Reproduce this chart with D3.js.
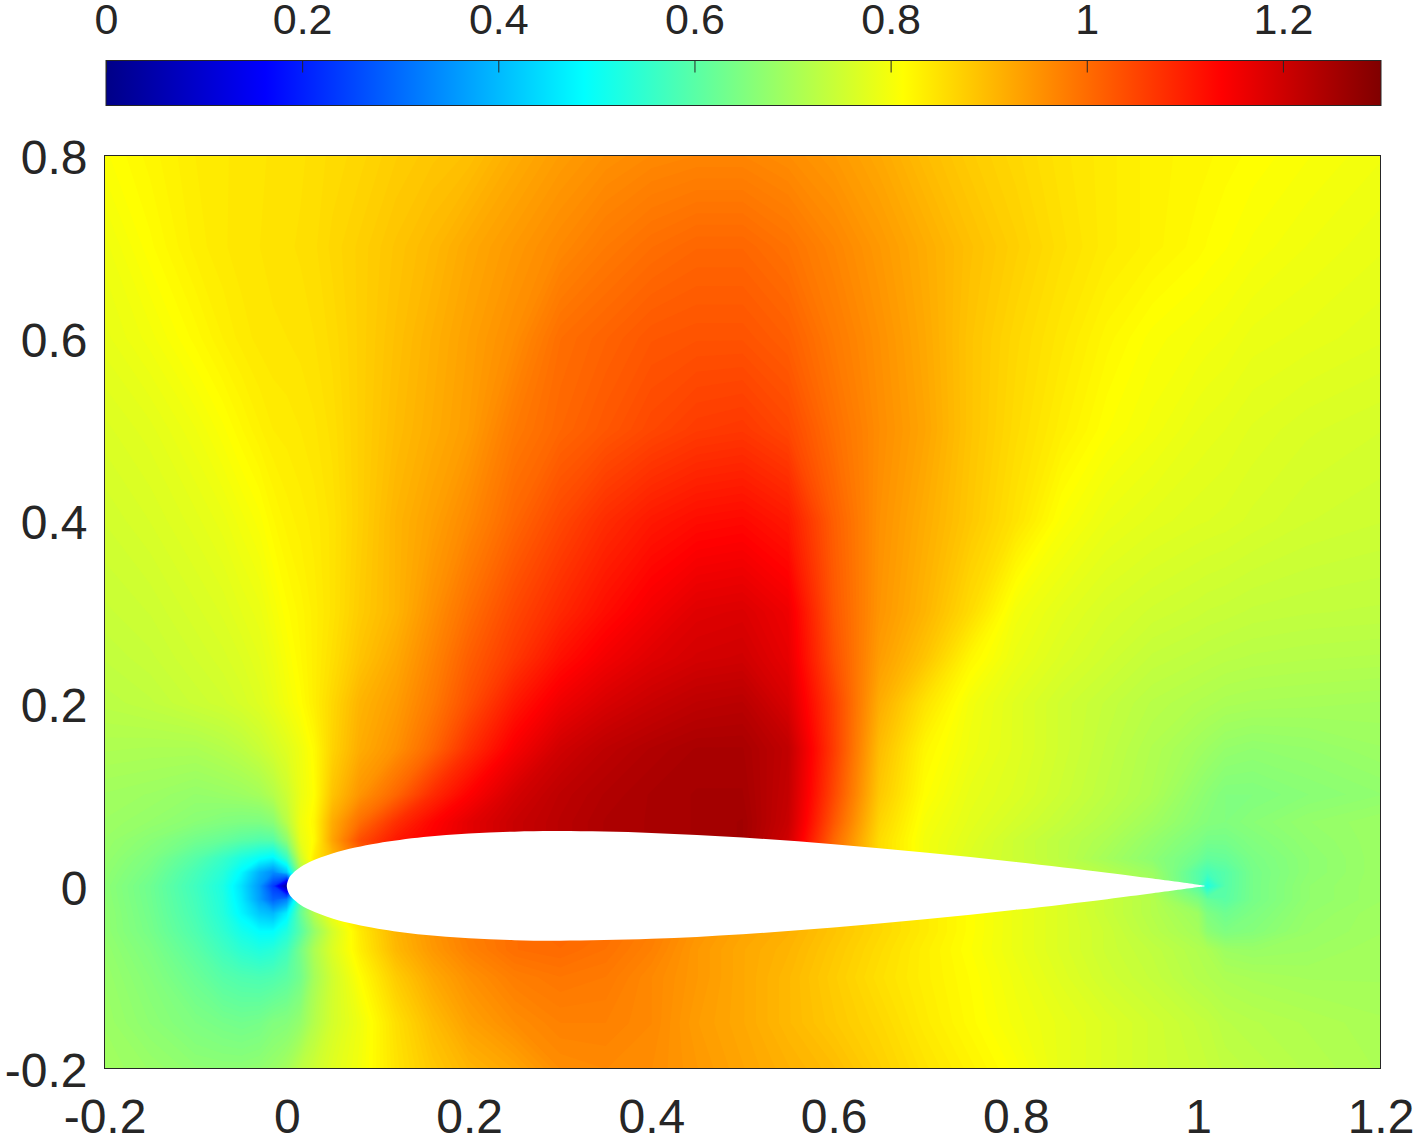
<!DOCTYPE html>
<html>
<head>
<meta charset="utf-8">
<script src="https://cdn.jsdelivr.net/npm/d3@7"></script>
<style>
	body { margin: 0; background: #fff; }
	svg { display: block; }
	text { font-family: "Liberation Sans", Arial, sans-serif; fill: #262626; }
</style>
</head>
<body>
<script>
// grid positions of the field (finer near nose and tail)
const gridXs = [-0.2,-0.15,-0.1,-0.07,-0.05,-0.03,-0.015,0,0.015,0.03,0.05,0.08,0.12,0.16,0.2,0.25,0.3,0.35,0.4,0.45,0.5,0.55,0.6,0.65,0.7,0.75,0.8,0.85,0.9,0.95,1,1.01,1.03,1.06,1.12,1.2]
const gridYs = [0.8,0.7,0.6,0.5,0.4,0.3,0.25,0.2,0.15,0.1,0.07,0.05,0.03,0.015,0,-0.015,-0.03,-0.05,-0.07,-0.1,-0.15,-0.2]

// field values, one row per gridYs entry
const rowP80 = [.811,.825,.838,.842,.845,.847,.849,.85,.852,.855,.86,.866,.878,.887,.895,.92,.94,.955,.965,.97,.97,.96,.945,.925,.9,.88,.865,.85,.84,.83,.825,.824,.82,.816,.808,.798]
const rowP70 = [.795,.816,.835,.842,.846,.848,.85,.852,.854,.857,.865,.875,.89,.905,.925,.945,.965,.985,1,1.01,1.01,.995,.97,.945,.92,.895,.875,.855,.84,.83,.82,.817,.813,.806,.797,.788]
const rowP60 = [.785,.8,.82,.833,.84,.845,.847,.848,.85,.853,.86,.875,.895,.915,.935,.96,1,1.015,1.03,1.035,1.035,1.02,.985,.955,.925,.89,.865,.845,.825,.81,.802,.8,.797,.79,.785,.778]
const rowP50 = [.77,.78,.797,.811,.822,.832,.838,.84,.843,.847,.855,.875,.9,.92,.94,.985,1.01,1.03,1.05,1.065,1.07,1.05,1,.96,.93,.89,.86,.835,.813,.8,.787,.785,.782,.776,.768,.762]
const rowP40 = [.757,.767,.78,.79,.8,.81,.822,.83,.835,.84,.85,.875,.91,.935,.965,1.01,1.05,1.085,1.11,1.125,1.13,1.11,1.02,.955,.92,.885,.85,.81,.79,.78,.773,.772,.77,.765,.757,.752]
const rowP30 = [.745,.752,.765,.773,.782,.79,.803,.816,.825,.835,.85,.88,.91,.955,1,1.05,1.09,1.125,1.155,1.18,1.185,1.16,1.03,.95,.91,.86,.8,.78,.765,.755,.748,.746,.744,.74,.737,.735]
const rowP25 = [.737,.745,.757,.765,.772,.782,.793,.808,.822,.835,.855,.89,.925,.97,1.02,1.07,1.12,1.155,1.18,1.195,1.2,1.17,1.04,.94,.89,.825,.79,.77,.755,.74,.733,.731,.728,.725,.722,.72]
const rowP20 = [.728,.735,.748,.755,.763,.773,.785,.8,.815,.835,.865,.91,.94,.985,1.04,1.11,1.16,1.19,1.21,1.225,1.23,1.19,1.06,.92,.85,.8,.775,.755,.74,.725,.715,.713,.708,.705,.703,.7]
const rowP15 = [.712,.71,.71,.72,.73,.745,.76,.775,.795,.82,.87,.92,.955,1.01,1.08,1.15,1.2,1.225,1.24,1.25,1.25,1.22,1.065,.9,.825,.795,.775,.755,.735,.715,.695,.69,.68,.675,.68,.69]
const rowP10 = [.695,.69,.68,.685,.69,.7,.72,.75,.79,.815,.89,.95,1.01,1.085,1.14,1.195,1.225,1.24,1.25,1.255,1.255,1.215,1.05,.885,.815,.785,.77,.75,.73,.71,.675,.668,.655,.655,.665,.675]
const rowP07 = [.69,.68,.665,.655,.65,.65,.665,.725,.795,.825,.92,1,1.08,1.135,1.175,1.21,1.23,1.245,1.25,1.255,1.26,1.21,1.03,.87,.805,.78,.76,.74,.72,.695,.665,.66,.655,.665,.68,.69]
const rowP05 = [.685,.665,.635,.62,.605,.595,.6,.67,.785,.82,.93,1.04,1.11,1.145,1.175,1.21,1.23,1.245,1.25,1.255,1.26,1.2,1.01,.86,.8,.775,.75,.73,.71,.68,.65,.64,.64,.655,.675,.69]
const rowP03 = [.68,.65,.6,.56,.525,.495,.475,.56,.75,.84,.9,1,1.08,1.13,1.16,1.2,1.23,1.25,1.26,1.27,1.26,1.19,1,.86,.8,.77,.75,.73,.7,.67,.63,.615,.62,.645,.67,.69]
const rowP015 = [.675,.64,.58,.54,.485,.39,.345,.42,.7,.8,.86,.95,1.05,1.1,1.13,1.17,1.2,1.22,1.22,1.2,1.15,1.1,.98,.86,.81,.78,.76,.74,.72,.69,.6,.58,.6,.64,.67,.69]
const rowZero = [.67,.63,.57,.525,.455,.36,.24,.02,.4,.7,.8,.88,.93,.97,1,1.05,1.08,1.1,1.1,1.09,1.07,1.05,.95,.86,.82,.79,.77,.75,.73,.7,.6,.53,.6,.64,.675,.69]
const rowM015 = [.672,.632,.575,.53,.465,.37,.29,.33,.6,.72,.8,.87,.93,.97,.99,1,1.01,1,.98,.95,.93,.915,.89,.865,.84,.815,.79,.77,.745,.72,.65,.62,.605,.64,.675,.69]
const rowM03 = [.675,.635,.58,.535,.48,.42,.4,.47,.62,.72,.8,.87,.93,.97,.99,1,1.01,1,.98,.95,.93,.915,.89,.865,.84,.815,.79,.77,.745,.72,.69,.65,.63,.65,.68,.695]
const rowM05 = [.675,.64,.59,.55,.515,.49,.49,.53,.6,.68,.76,.84,.91,.95,.98,1,1.01,1,.98,.95,.93,.915,.89,.865,.84,.815,.79,.77,.75,.725,.7,.67,.65,.66,.685,.695]
const rowM07 = [.68,.65,.605,.57,.545,.53,.54,.57,.64,.71,.77,.835,.905,.945,.975,1,1.005,.995,.975,.945,.925,.91,.885,.86,.835,.813,.79,.77,.75,.735,.715,.71,.69,.685,.69,.7]
const rowM10 = [.685,.66,.625,.6,.59,.585,.59,.605,.635,.7,.755,.815,.88,.925,.955,.98,.99,.985,.965,.945,.925,.905,.88,.855,.835,.817,.795,.775,.755,.74,.72,.717,.71,.705,.7,.7]
const rowM15 = [.69,.67,.65,.64,.635,.64,.655,.66,.68,.72,.76,.795,.855,.9,.935,.96,.975,.975,.965,.94,.925,.905,.885,.865,.84,.82,.8,.785,.77,.755,.74,.737,.727,.722,.715,.707]
const rowM20 = [.695,.685,.672,.67,.67,.675,.685,.7,.73,.75,.775,.8,.85,.885,.91,.93,.96,.965,.96,.945,.93,.915,.9,.875,.85,.83,.81,.785,.77,.755,.745,.742,.735,.73,.72,.71]

const fieldRows = [rowP80,rowP70,rowP60,rowP50,rowP40,rowP30,rowP25,rowP20,rowP15,rowP10,rowP07,rowP05,rowP03,rowP015,rowZero,rowM015,rowM03,rowM05,rowM07,rowM10,rowM15,rowM20]

// airfoil outline, upper side; the lower side mirrors it
const foilXs = [0,0.0025,0.005,0.0125,0.025,0.05,0.075,0.1,0.15,0.2,0.25,0.3,0.4,0.5,0.6,0.7,0.8,0.9,0.95,1,1.0073]
const foilYs = [0,0.0087,0.0122,0.0189,0.0262,0.0356,0.042,0.0468,0.0535,0.0574,0.0594,0.06,0.058,0.0529,0.0456,0.0366,0.0262,0.0145,0.0081,0.0013,0]

const xTicks = [-0.2,0,0.2,0.4,0.6,0.8,1,1.2]
const yTicks = [-0.2,0,0.2,0.4,0.6,0.8]
const barTicks = [0,0.2,0.4,0.6,0.8,1,1.2]

// jet colormap over 0..1.3
const cMax = 1.3
const jetStops = [0,0.125,0.375,0.625,0.875,1]
const jetColors = ['#000087','#0000ff','#00ffff','#ffff00','#ff0000','#800000']

const w = 1414
const h = 1135
const plot = { left: 104.5, right: 1380.5, top: 155.5, bottom: 1068.5 }
const bar = { left: 106, right: 1381, top: 60.5, bottom: 105.5 }

const xScale = d3.scaleLinear().domain([-0.2, 1.2]).range([plot.left, plot.right])
const yScale = d3.scaleLinear().domain([-0.2, 0.8]).range([plot.bottom, plot.top])
const barScale = d3.scaleLinear().domain([0, cMax]).range([bar.left, bar.right])
const color = d3.scaleLinear().domain(jetStops.map(d => d * cMax)).range(jetColors)

const svg = d3.select('body')
	.append('svg')
	.attr('width', w)
	.attr('height', h)

const defs = svg.append('defs')
defs.append('clipPath')
	.attr('id', 'plotClip')
	.append('rect')
	.attr('x', plot.left)
	.attr('y', plot.top)
	.attr('width', plot.right - plot.left)
	.attr('height', plot.bottom - plot.top)

const grad = defs.append('linearGradient').attr('id', 'jet')
grad.selectAll('stop')
	.data(jetStops)
	.enter()
	.append('stop')
	.attr('offset', d => d)
	.attr('stop-color', (d, i) => jetColors[i])

// field as stacked filled contours; contour coordinates are grid indices + 0.5
const nx = gridXs.length
const ny = gridYs.length
const idxToX = d3.scaleLinear().domain(d3.range(nx)).range(gridXs)
const idxToY = d3.scaleLinear().domain(d3.range(ny)).range(gridYs)
const gridPath = d3.geoPath(d3.geoTransform({
	point: function(gx, gy) {
		this.stream.point(xScale(idxToX(gx - 0.5)), yScale(idxToY(gy - 0.5)))
	}
}))

const levels = d3.range(0, cMax, cMax / 256)
const contours = d3.contours()
	.size([nx, ny])
	.thresholds(levels)(fieldRows.flat())

svg.append('g')
	.attr('clip-path', 'url(#plotClip)')
	.selectAll('path')
	.data(contours)
	.enter()
	.append('path')
	.attr('d', gridPath)
	.attr('fill', d => color(d.value))

// airfoil hole
const foil = foilXs.map((x, i) => [x, foilYs[i]])
	.concat(foilXs.map((x, i) => [x, -foilYs[i]]).reverse().slice(1, -1))
svg.append('path')
	.attr('d', d3.line()
		.x(d => xScale(d[0]))
		.y(d => yScale(d[1]))
		.curve(d3.curveCatmullRomClosed.alpha(0.5))(foil))
	.attr('fill', '#fff')

svg.append('rect')
	.attr('x', plot.left)
	.attr('y', plot.top)
	.attr('width', plot.right - plot.left)
	.attr('height', plot.bottom - plot.top)
	.attr('fill', 'none')
	.attr('stroke', '#262626')
	.attr('stroke-width', 1)

const xAxis = d3.axisBottom(xScale).tickValues(xTicks).tickFormat(d => d).tickSize(0).tickPadding(30.5)
const yAxis = d3.axisLeft(yScale).tickValues(yTicks).tickFormat(d => d).tickSize(0).tickPadding(17)

const xg = svg.append('g').attr('transform', `translate(0,${plot.bottom})`).call(xAxis)
const yg = svg.append('g').attr('transform', `translate(${plot.left},0)`).call(yAxis)
xg.select('.domain').remove()
yg.select('.domain').remove()
xg.selectAll('text').style('font-size', '48px').attr('fill', '#262626')
yg.selectAll('text').style('font-size', '48px').attr('fill', '#262626').attr('dy', '0.38em')

// colorbar
svg.append('rect')
	.attr('x', bar.left)
	.attr('y', bar.top)
	.attr('width', bar.right - bar.left)
	.attr('height', bar.bottom - bar.top)
	.attr('fill', 'url(#jet)')
	.attr('stroke', '#262626')
	.attr('stroke-width', 1)

const barAxis = d3.axisTop(barScale).tickValues(barTicks).tickFormat(d => d).tickSizeInner(-12).tickSizeOuter(0).tickPadding(26.5)
const bg = svg.append('g').attr('transform', `translate(0,${bar.top})`).call(barAxis)
bg.select('.domain').remove()
bg.selectAll('line').attr('stroke', '#262626')
bg.selectAll('text').style('font-size', '43px').attr('fill', '#262626')
</script>
</body>
</html>
